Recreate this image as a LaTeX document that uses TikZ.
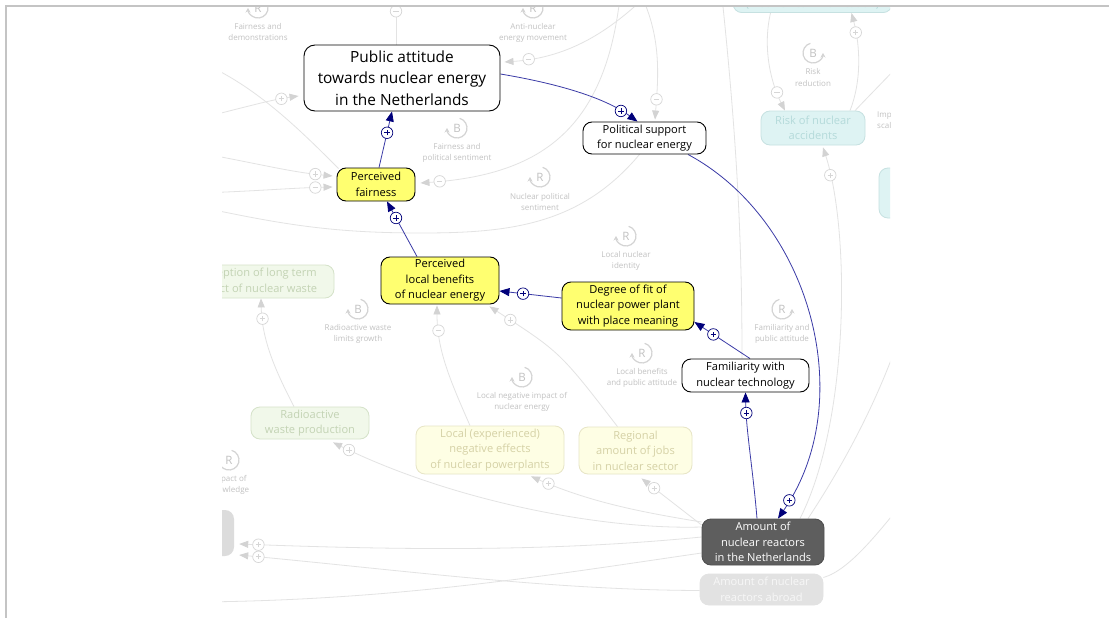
\documentclass[tikz,border=0pt]{standalone}
\usepackage{fontspec}
\setmainfont{Open Sans}
\usetikzlibrary{arrows.meta}
\pgfdeclarelayer{back}
\pgfdeclarelayer{bg}
\pgfsetlayers{back,bg,main}
\definecolor{navy}{HTML}{00007A}
\definecolor{bline}{HTML}{3A3AA6}
\definecolor{yel}{HTML}{FFFF70}
\definecolor{fline}{HTML}{E3E3E3}
\definecolor{fhead}{HTML}{D3D3D3}
\definecolor{fsg}{HTML}{D6D6D6}
\definecolor{loopc}{HTML}{D4D4D4}
\definecolor{looptxt}{HTML}{C2C2C2}
\definecolor{frameg}{HTML}{C4C4C4}
\definecolor{darkg}{HTML}{5E5E5E}
\definecolor{gfill}{HTML}{F1F8EA}
\definecolor{gdraw}{HTML}{D5E2C9}
\definecolor{gtext}{HTML}{C3D3B4}
\definecolor{yfill}{HTML}{FEFEE4}
\definecolor{ydraw}{HTML}{E7E5C6}
\definecolor{ytext}{HTML}{D5D1A6}
\definecolor{cfill}{HTML}{DEF3F3}
\definecolor{cdraw}{HTML}{C6E1E1}
\definecolor{ctext}{HTML}{B4DADA}
\definecolor{afill}{HTML}{E2E2E2}
\definecolor{atext}{HTML}{F7F7F7}
\definecolor{lfill}{HTML}{DCDCDC}
\tikzset{
  nfont/.style={font=\fontsize{11.1}{15.5}\selectfont},
  box/.style={rounded corners=9pt, line width=0.9pt, draw=black, fill=white, align=center, inner sep=0pt, nfont},
  ybox/.style={box, fill=yel},
  dbox/.style={box, fill=darkg, draw=darkg!85!black, text=white},
  fbox/.style={rounded corners=9pt, line width=0.8pt, align=center, inner sep=0pt, nfont},
  gbox/.style={fbox, fill=gfill, draw=gdraw, text=gtext},
  fybox/.style={fbox, fill=yfill, draw=ydraw, text=ytext},
  cbox/.style={fbox, fill=cfill, draw=cdraw, text=ctext},
  abox/.style={fbox, fill=afill, draw=afill, text=atext},
  arr/.style={draw=bline, line width=0.8pt, -{Triangle[length=10pt,width=8pt,color=navy]}},
  fl/.style={draw=fline, line width=0.8pt},
  fla/.style={fl, -{Triangle[length=9pt,width=7pt,color=fhead]}},
  sgbase/.style={circle, fill=white, minimum size=11.5pt, inner sep=0pt, line width=0.7pt},
  psg/.style={sgbase, draw=navy, path picture={\draw[arrows=-, navy, line width=0.8pt]
      ([xshift=-2.6pt]path picture bounding box.center) -- ([xshift=2.6pt]path picture bounding box.center)
      ([yshift=-2.6pt]path picture bounding box.center) -- ([yshift=2.6pt]path picture bounding box.center);}},
  fplus/.style={sgbase, draw=fsg, path picture={\draw[arrows=-, fsg, line width=0.8pt]
      ([xshift=-2.6pt]path picture bounding box.center) -- ([xshift=2.6pt]path picture bounding box.center)
      ([yshift=-2.6pt]path picture bounding box.center) -- ([yshift=2.6pt]path picture bounding box.center);}},
  fminus/.style={sgbase, draw=fsg, path picture={\draw[arrows=-, fsg, line width=0.8pt]
      ([xshift=-2.6pt]path picture bounding box.center) -- ([xshift=2.6pt]path picture bounding box.center);}},
  looplab/.style={text=looptxt, align=center, inner sep=0pt, font=\fontsize{8}{11}\selectfont},
  loopletter/.style={text=looptxt, inner sep=0pt, font=\fontsize{11.5}{11.5}\selectfont},
}
\newcommand{\loopL}[4]{%
  \draw[loopc, line width=1.2pt, -{Stealth[length=4.5pt,width=5pt]}] (#1,-#2) ++(75:10pt) arc[start angle=75, end angle=-180, radius=10pt];
  \node[loopletter] at (#1,-#2) {#3};
  \node[looplab] at (#1,{-#2-24.5}) {#4};
}
\newcommand{\loopR}[4]{%
  \draw[loopc, line width=1.2pt, -{Stealth[length=4.5pt,width=5pt]}] (#1,-#2) ++(105:10pt) arc[start angle=105, end angle=360, radius=10pt];
  \node[loopletter] at (#1,-#2) {#3};
  \node[looplab] at (#1,{-#2-24.5}) {#4};
}
\begin{document}
\begin{tikzpicture}[x=1pt,y=1pt]
\useasboundingbox (0,0) rectangle (1109,-618);
\begin{pgfonlayer}{back}
  \fill[white] (0,0) rectangle (1109,-618);
\end{pgfonlayer}

% ---------- nodes ----------
\begin{scope}
\clip (222,-7) rectangle (890,-618);
\node[box, minimum width=196pt, minimum height=66pt, rounded corners=11pt, font=\fontsize{15.4}{21.5}\selectfont] (pa) at (402,-78) {Public attitude\\towards nuclear energy\\in the Netherlands};
\node[box, minimum width=123pt, minimum height=32pt] (ps) at (644.5,-138) {Political support\\for nuclear energy};
\node[ybox, minimum width=78pt, minimum height=33pt] (fair) at (376,-184.5) {Perceived\\fairness};
\node[ybox, minimum width=118pt, minimum height=47pt] (lb) at (440,-280.5) {Perceived\\local benefits\\of nuclear energy};
\node[ybox, minimum width=132pt, minimum height=48pt] (dof) at (628,-306) {Degree of fit of\\nuclear power plant\\with place meaning};
\node[box, minimum width=127pt, minimum height=33pt] (fam) at (745.5,-375.5) {Familiarity with\\nuclear technology};
\node[dbox, minimum width=122pt, minimum height=46pt] (nl) at (763,-542) {Amount of\\nuclear reactors\\in the Netherlands};
\node[abox, minimum width=123pt, minimum height=31pt] (abroad) at (761.5,-589.5) {Amount of nuclear\\reactors abroad};
\node[gbox, minimum width=118pt, minimum height=32pt] (rwp) at (310,-423) {Radioactive\\waste production};
\node[fybox, minimum width=148pt, minimum height=48pt] (lne) at (490,-450) {Local (experienced)\\negative effects\\of nuclear powerplants};
\node[fybox, minimum width=113pt, minimum height=47pt] (rj) at (635.5,-450.5) {Regional\\amount of jobs\\in nuclear sector};
\node[gbox, minimum width=157pt, minimum height=33pt] (plt) at (255.5,-281.5) {Perception of long term\\impact of nuclear waste};
\node[cbox, minimum width=104pt, minimum height=34pt] (riskacc) at (813,-128) {Risk of nuclear\\accidents};
\node[cbox, minimum width=159pt, minimum height=16pt, anchor=south] (riskcomm) at (812.5,-13) {(incl. risk communication)};
\node[cbox, minimum width=60pt, minimum height=50pt] (cr) at (909,-193) {};
\node[fill=lfill, rounded corners=9pt, minimum width=40pt, minimum height=46pt, inner sep=0pt] (gl) at (214,-533) {};
\node[looplab, anchor=north west, align=left] (impsc) at (877,-111.5) {Impact of\\scale};
\end{scope}

% ---------- faded connectors, loops ----------
\begin{pgfonlayer}{bg}
\begin{scope}
\clip (222,-7) rectangle (890,-618);
\coordinate (oA) at (396,3);
\coordinate (oB) at (645,3);
\coordinate (oC) at (205,-117);
\coordinate (oD) at (200,-62);
\coordinate (oE) at (200,-153);
\coordinate (oF) at (200,-193);
\coordinate (oG) at (620,3);
\coordinate (oH) at (200,-207);
\coordinate (oI) at (642,3);
\coordinate (oJ) at (722,3);
\coordinate (oK) at (905,-320);
\coordinate (oL) at (905,-500);
\coordinate (oM) at (900,-64);
\coordinate (oN) at (200,-602);

\draw[fl] ([xshift=-6pt]pa.north) -- (oA) node[fminus,pos=0.70]{};
\draw[fla] (oB) .. controls (605,-35) and (565,-58) .. ([xshift=4pt,yshift=16pt]pa.east) node[fminus,pos=0.86]{};
\draw[fla] (oC) .. controls (250,-106) and (270,-100) .. ([xshift=-5pt,yshift=-18pt]pa.west) node[fplus,pos=0.79]{};
\draw[fl] ([xshift=2pt,yshift=-1pt]fair.north west) .. controls (300,-130) and (255,-85) .. (oD);
\draw[fla] (oE) .. controls (260,-164) and (290,-172) .. ([xshift=-4pt,yshift=8.5pt]fair.west) node[fplus,pos=0.86]{};
\draw[fla] (oF) .. controls (260,-191) and (290,-188) .. ([xshift=-4pt,yshift=-2.5pt]fair.west) node[fminus,pos=0.86]{};
\draw[fla] (oG) .. controls (605,-130) and (540,-175) .. ([xshift=5pt,yshift=1.5pt]fair.east) node[fminus,pos=0.945]{};
\draw[fl] ([xshift=-5pt]ps.south) to[out=-130,in=0] (422,-233) to[out=180,in=-12] (oH);
\draw[fla] (oI) .. controls (662,-40) and (658,-80) .. ([xshift=10.5pt,yshift=2pt]ps.north) node[fminus,pos=0.83]{};
\draw[fl] (oJ) .. controls (738,-150) and (742,-250) .. ([xshift=-3.5pt]fam.north);
\draw[fla] ([xshift=37pt]riskacc.north) .. controls (862,-80) and (860,-45) .. ([xshift=39pt]riskcomm.south) node[fplus,pos=0.8]{};
\draw[fla] ([xshift=-42pt]riskcomm.south) .. controls (762,-50) and (772,-85) .. ([xshift=-28pt]riskacc.north) node[fminus,pos=0.78]{};
\draw[fla] ([xshift=37pt]nl.north) .. controls (850,-420) and (850,-230) .. ([xshift=10pt,yshift=-2pt]riskacc.south) node[fplus,pos=0.9]{};
\draw[fl] ([xshift=45pt]nl.north) .. controls (840,-470) and (880,-400) .. (oK);
\draw[fl] ([yshift=12pt]abroad.east) .. controls (850,-570) and (880,-530) .. (oL);
\draw[fl] ([xshift=42pt]riskacc.north) .. controls (870,-95) .. (oM);
\draw[fla] ([xshift=-20pt]lne.north) .. controls (450,-380) and (437,-350) .. ([xshift=-3pt,yshift=-1pt]lb.south) node[fminus,pos=0.8]{};
\draw[fla] ([xshift=-18pt]rj.north) .. controls (560,-352) .. ([xshift=-10pt,yshift=-2pt]lb.south east) node[fplus,pos=0.89]{};
\draw[fla] ([xshift=-16pt]rwp.north) .. controls (275,-370) and (262,-340) .. ([xshift=5.5pt]plt.south) node[fplus,pos=0.83]{};
\draw[fla] ([yshift=15pt]nl.west) .. controls (600,-530) and (450,-500) .. ([xshift=23pt,yshift=-3pt]rwp.south) node[fplus,pos=0.955]{};
\draw[fla] ([yshift=20pt]nl.west) .. controls (640,-512) and (590,-502) .. ([xshift=41pt,yshift=-2pt]lne.south) node[fplus,pos=0.9]{};
\draw[fla] ([yshift=17pt]nl.west) -- ([xshift=6pt,yshift=-4pt]rj.south) node[fplus,pos=0.79]{};
\draw[fla] ([yshift=5pt]nl.west) .. controls (550,-552) and (400,-550) .. ([xshift=5pt,yshift=-11pt]gl.east) node[fplus,pos=0.96]{};
\draw[fla] ([yshift=-1pt]abroad.west) .. controls (550,-590) and (400,-570) .. ([xshift=5pt,yshift=-22pt]gl.east) node[fplus,pos=0.96]{};
\draw[fl] ([yshift=-11pt]nl.west) .. controls (550,-575) and (400,-600) .. (oN);

\loopL{258}{8}{R}{Fairness and\\demonstrations}
\loopL{533}{8}{R}{Anti-nuclear\\energy movement}
\loopL{457}{128}{B}{Fairness and\\political sentiment}
\loopL{540}{177}{R}{Nuclear political\\sentiment}
\loopL{626}{236}{R}{Local nuclear\\identity}
\loopR{782}{309}{R}{Familiarity and\\public attitude}
\loopL{642}{353}{R}{Local benefits\\and public attitude}
\loopL{358}{309}{B}{Radioactive waste\\limits growth}
\loopL{522}{377}{B}{Local negative impact of\\nuclear energy}
\loopL{229}{460}{R}{Impact of\\knowledge}
\loopR{813}{53}{B}{Risk\\reduction}
\end{scope}

% ---------- main connectors ----------
\draw[arr] ([xshift=3pt]fair.north) -- ([xshift=-10pt]pa.south) node[psg,pos=0.62]{};
\draw[arr] ([xshift=-23pt]lb.north) -- ([xshift=11pt]fair.south) node[psg,pos=0.7]{};
\draw[arr] ([yshift=8pt]dof.west) -- ([yshift=-10.5pt]lb.east) node[psg,pos=0.62]{};
\draw[arr] ([xshift=4.5pt]fam.north) -- ([yshift=-16pt]dof.east) node[psg,pos=0.66]{};
\draw[arr] ([xshift=-6pt]nl.north) .. controls (753,-470) and (746,-430) .. (fam.south) node[psg,pos=0.82]{};
\draw[arr] ([xshift=43.5pt]ps.south) .. controls (810,-220) and (860,-400) .. ([xshift=15pt]nl.north) node[psg,pos=0.95]{};
\draw[arr] ([yshift=4pt]pa.east) .. controls (560,-84) and (605,-98) .. ([xshift=-7pt]ps.north) node[psg,pos=0.84]{};
\end{pgfonlayer}

% ---------- frame ----------
\draw[frameg, line width=2pt] (6,-618) -- (6,-6) -- (1109,-6);
\end{tikzpicture}
\end{document}
